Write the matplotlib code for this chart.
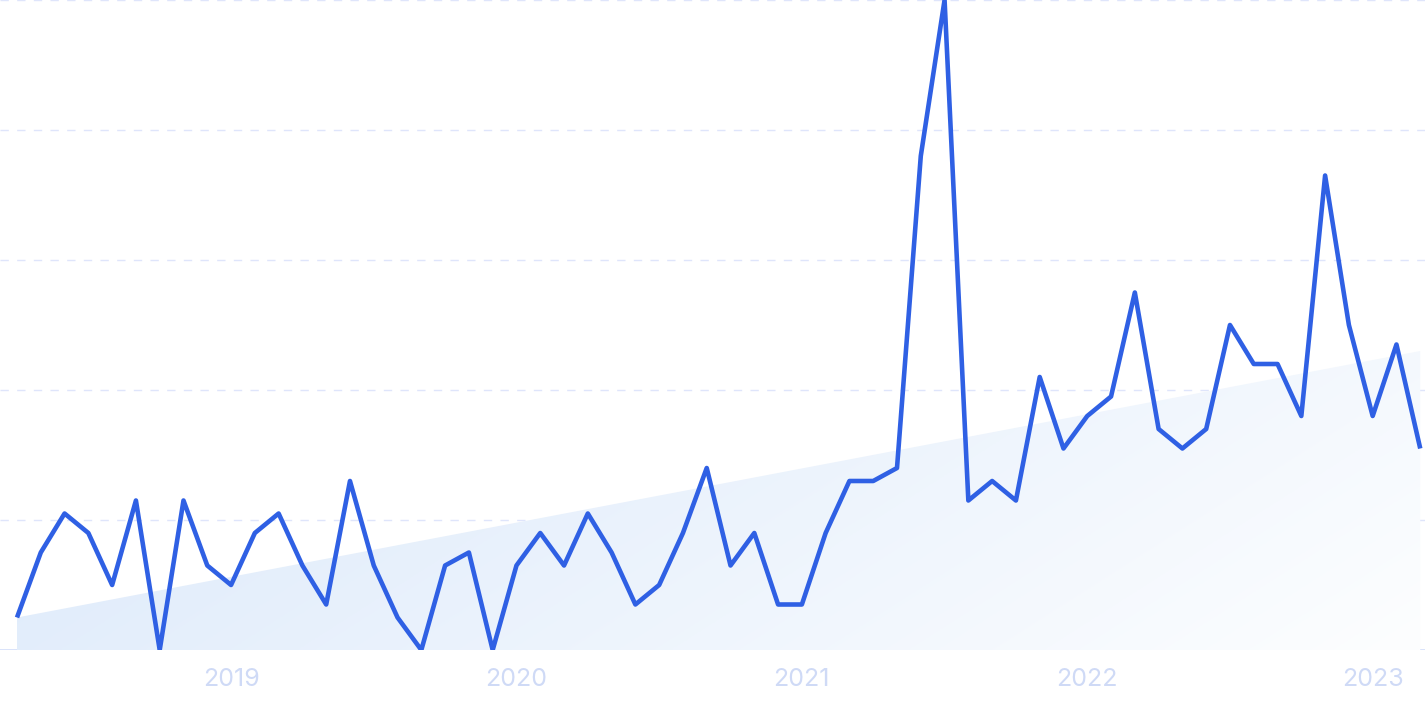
import numpy as np
import pandas as pd
import matplotlib
matplotlib.use("Agg")
import matplotlib.pyplot as plt
from matplotlib.patches import Polygon

# monthly values, Apr 2018 - Mar 2023 (peak = 100)
months = pd.date_range("2018-04-01", periods=60, freq="MS")
values = [5, 15, 21, 18, 10, 23, 0, 23, 13, 10, 18, 21,
          13, 7, 26, 13, 5, 0, 13, 15, 0, 13, 18, 13,
          21, 15, 7, 10, 18, 28, 13, 18, 7, 7, 18, 26,
          26, 28, 76, 100, 23, 26, 23, 42, 31, 36, 39, 55,
          34, 31, 34, 50, 44, 44, 36, 73, 50, 36, 47, 31]
trend_ends = [5, 46]
tick_years = ["2019", "2020", "2021", "2022", "2023"]

x = np.arange(len(values))
tick_pos = [i for i, m in enumerate(months) if m.month == 1]

fig = plt.figure(figsize=(14.25, 7.12), dpi=100)
ax = fig.add_axes([0, 62 / 712, 1, 650 / 712])
ax.set_xlim(-0.715, 59.2)
ax.set_ylim(0, 100)

# grid
for g in [20, 40, 60, 80, 100]:
    ax.axhline(g, color="#dfe5fb", lw=1, ls=(0, (6, 6)), zorder=1)
ax.axhline(0, color="#d3defa", lw=1.2, zorder=1)

# trend area with gradient
trend = np.interp(x, [0, x[-1]], trend_ends)
verts = [(0, 0)] + list(zip(x, trend)) + [(x[-1], 0)]
poly = Polygon(verts, closed=True, facecolor="none", edgecolor="none")
ax.add_patch(poly)
ny, nx = 200, 400
gx, gy = np.meshgrid(np.linspace(0, 1, nx), np.linspace(1, 0, ny))
t = np.clip((gx * 0.75 + (1 - gy) * 0.25), 0, 1)
c0 = np.array([218, 232, 250]) / 255
c1 = np.array([253, 254, 255]) / 255
img = np.zeros((ny, nx, 4))
for k in range(3):
    img[..., k] = c0[k] + (c1[k] - c0[k]) * t
img[..., 3] = 1
im = ax.imshow(img, extent=[0, x[-1], 0, trend_ends[1]], aspect="auto",
               origin="upper", zorder=2)
im.set_clip_path(poly)

ax.plot(x, values, color="#2f60e4", lw=3.3, zorder=3,
        solid_joinstyle="round", solid_capstyle="butt")

for pos, lab in zip(tick_pos, tick_years):
    ax.text(pos, -4.6, lab, ha="center", va="center", fontsize=18,
            color="#cfdaf6", family="Inter", clip_on=False)

ax.set_xticks([])
ax.set_yticks([])
for s in ax.spines.values():
    s.set_visible(False)

fig.savefig("out.png", dpi=100)
